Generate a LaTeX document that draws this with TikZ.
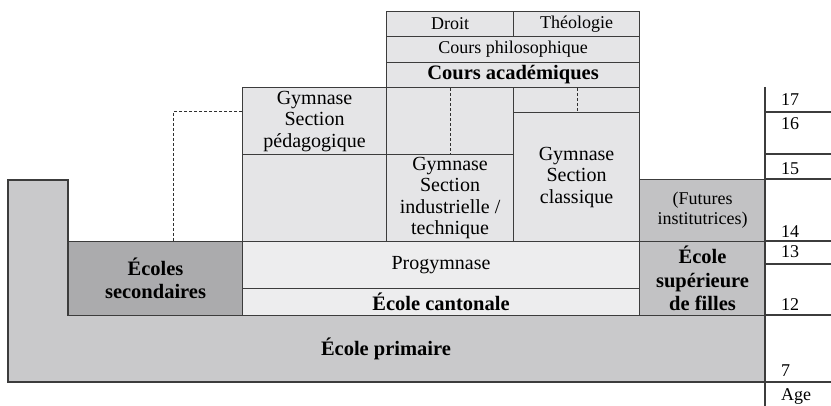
\documentclass[tikz,border=0pt]{standalone}
\usepackage{fontspec}
\setmainfont{Liberation Serif}
\definecolor{linea}{HTML}{3C3C3C}
\definecolor{chiaro}{HTML}{E5E5E7}
\definecolor{medio}{HTML}{C9C9CB}
\definecolor{scuro}{HTML}{ABABAD}
\definecolor{ragazze}{HTML}{C2C2C4}
\tikzset{
  cella/.style={draw=linea, fill=chiaro, line width=1.1pt, inner sep=0pt, anchor=north west, align=center, font=\fontsize{20}{21.5}\selectfont},
  dim/.style 2 args={minimum width=#1, minimum height=#2},
  piccolo/.style={font=\fontsize{18}{20}\selectfont},
  grasso/.style={font=\fontsize{20.5}{23.5}\selectfont\bfseries},
  tratteggio/.style={draw=linea!80!black, line width=1pt, dash pattern=on 3pt off 2pt},
  eta/.style={anchor=base west, inner sep=0pt, font=\fontsize{18}{20}\selectfont}
}
\begin{document}
\begin{tikzpicture}[x=1pt, y=-1pt]
\useasboundingbox (0,0) rectangle (831,406);
% scuola primaria (forma a L)
\filldraw[draw=linea, fill=medio, line width=1.1pt] (8,180) -- (68,180) -- (68,315) -- (765,315) -- (765,382) -- (8,382) -- cycle;
\node[grasso] (primaire) at (386,349) {École primaire};

% blocco in alto
\node[cella, piccolo, dim={127pt}{25pt}] (droit) at (386,11) {Droit};
\node[cella, piccolo, dim={126pt}{25pt}] (theologie) at (513,11) {Théologie};
\node[cella, piccolo, dim={253pt}{26pt}] (philo) at (386,36) {Cours philosophique};
\node[cella, grasso, dim={253pt}{25pt}] (academiques) at (386,62) {Cours académiques};

% gymnase
\node[cella, dim={144pt}{67pt}] (pedagogique) at (242,87) {Gymnase\\Section\\pédagogique};
\node[cella, dim={144pt}{87pt}] (videgauche) at (242,154) {};
\node[cella, dim={127pt}{67pt}] (videmilieu) at (386,87) {};
\node[cella, dim={127pt}{87pt}] (industrielle) at (386,154) {Gymnase\\Section\\industrielle /\\technique};
\node[cella, dim={126pt}{25pt}] (videdroite) at (513,87) {};
\node[cella, dim={126pt}{129pt}] (classique) at (513,112) {Gymnase\\Section\\classique};

% progymnase e scuola cantonale
\node[cella, fill=chiaro!70!white, dim={397pt}{47pt}] (progymnase) at (242,241) {Progymnase};
\node[cella, grasso, fill=chiaro!70!white, dim={397pt}{27pt}] (cantonale) at (242,288) {École cantonale};
\node[cella, grasso, fill=scuro, dim={174pt}{74pt}] (secondaires) at (68,241) {Écoles\\secondaires};

% ragazze
\node[cella, piccolo, fill=ragazze, dim={126pt}{62pt}] (futures) at (639,179) {(Futures\\institutrices)};
\node[cella, grasso, fill=ragazze, dim={126pt}{74pt}] (filles) at (639,241) {École\\supérieure\\de filles};

% linee tratteggiate
\coordinate (d1) at (173,112);
\coordinate (d2) at (450,0);
\coordinate (d3) at (577,0);
\draw[tratteggio] (pedagogique.west |- d1) -- (d1) -- (d1 |- secondaires.north);
\draw[tratteggio] (academiques.south -| d2) -- (industrielle.north -| d2);
\draw[tratteggio] (academiques.south -| d3) -- (classique.north -| d3);

% colonna delle eta
\draw[draw=linea, line width=1.1pt] (765,87) -- (765,406);
\foreach \y in {112,154,179,241,264,315,382}
  \draw[draw=linea, line width=1.1pt] (765,\y) -- (831,\y);
\foreach \n/\y in {17/105.5,16/130,15/175,14/238,13/258,12/311,7/377}
  \node[eta] (eta\n) at (781,\y) {\n};
\node[eta] (age) at (781,400) {Age};
\end{tikzpicture}
\end{document}
